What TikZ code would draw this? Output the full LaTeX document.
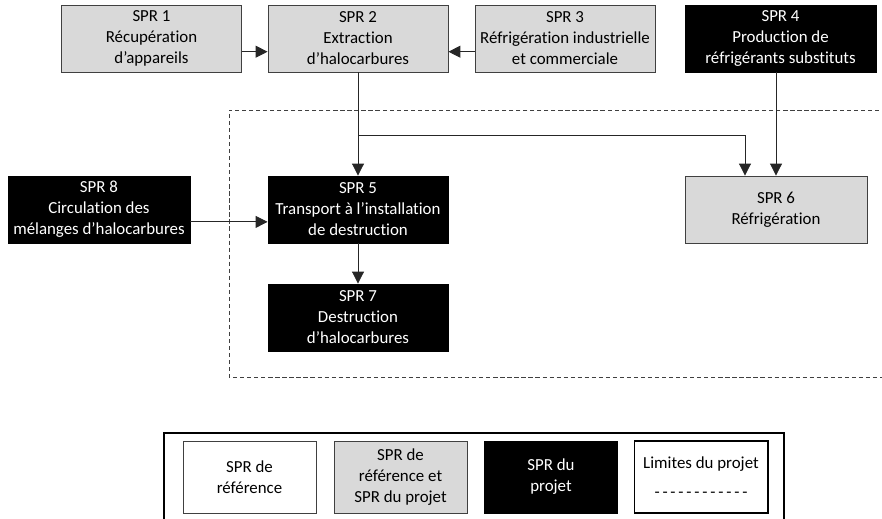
\documentclass[tikz,border=0pt]{standalone}
\usepackage{fontspec}
\setmainfont{Carlito}[Ligatures={NoCommon}]
\usepackage{xcolor}
\usepackage{tikz}
\usetikzlibrary{arrows.meta,positioning}

\definecolor{sprgray}{HTML}{D9D9D9}
\definecolor{sprline}{HTML}{404040}

\tikzset{
    sprbox/.style={
        draw=sprline,
        line width=0.6pt,
        minimum width=4.5cm,
        minimum height=1.675cm,
        inner sep=0pt,
        align=center,
        font=\fontsize{12}{14.9}\selectfont
    },
    refproj/.style={sprbox, fill=sprgray},
    projonly/.style={sprbox, fill=black, draw=black, text=white},
    legbox/.style={sprbox, minimum width=3.325cm, minimum height=1.8cm},
    flow/.style={
        -{Triangle[width=8.5pt,length=8.5pt]},
        line width=0.6pt,
        draw=black!85
    }
}

\begin{document}
\begin{tikzpicture}[x=0.025cm, y=-0.025cm]
                \useasboundingbox (0,0) rectangle (882,519);

                % limites du projet
                \draw[
                    line width=0.6pt,
                    draw=sprline,
                    dash pattern=on 3pt off 2pt
                    ] (900,110) -- (229,110) -- (229,377) -- (900,377);

                \node[refproj] (spr1) at (151.5,38.5) {SPR 1\\Récupération\\d’appareils};
                \node[refproj] (spr2) at (358,38.5) {SPR 2\\Extraction\\d’halocarbures};
                \node[refproj] (spr3) at (565,38.5) {SPR 3\\Réfrigération industrielle\\et commerciale};
                \node[projonly, minimum width=4.775cm] (spr4) at (780.5,38.5) {SPR 4\\Production de\\réfrigérants substituts};

                \node[projonly] (spr5) at (358,209.5) {SPR 5\\Transport à l’installation\\de destruction};
                \node[refproj, minimum width=4.55cm] (spr6) at (776,209.5) {SPR 6\\Réfrigération};
                \node[projonly, minimum width=4.55cm] (spr8) at (99,209.5) {SPR 8\\Circulation des\\mélanges d’halocarbures};
                \node[projonly] (spr7) at (358,317.5) {SPR 7\\Destruction\\d’halocarbures};

                \coordinate (split) at (358,135);

                \draw[flow] ([yshift=-0.33cm]spr1.east) -- ([yshift=-0.33cm]spr2.west);
                \draw[flow] ([yshift=-0.33cm]spr3.west) -- ([yshift=-0.33cm]spr2.east);
                \draw[flow] (spr2.south) -- (spr5.north);
                \draw[flow] (split) -| ([xshift=-0.775cm]spr6.north);
                \draw[flow] (spr4.south -| spr6.north) -- (spr6.north);
                \draw[flow] ([yshift=-0.31cm]spr8.east) -- ([yshift=-0.31cm]spr5.west);
                \draw[flow] (spr5.south) -- (spr7.north);

                % legende
                \draw[
                    line width=1.4pt
                    ] (164,433) rectangle (784,540);

                \node[legbox] (legref) at (249.5,477) {SPR de\\référence};
                \node[legbox, fill=sprgray] (legboth) at (400.5,477) {SPR de\\référence et\\SPR du projet};
                \node[legbox, fill=black, draw=black, text=white] (legproj) at (551,477) {SPR du\\projet};
                \node[legbox, draw=black, line width=1.4pt] (leglim) at (701,477) {Limites du projet\\[6pt]-\,-\,-\,-\,-\,-\,-\,-\,-\,-\,-\,-};

            \end{tikzpicture}
\end{document}
